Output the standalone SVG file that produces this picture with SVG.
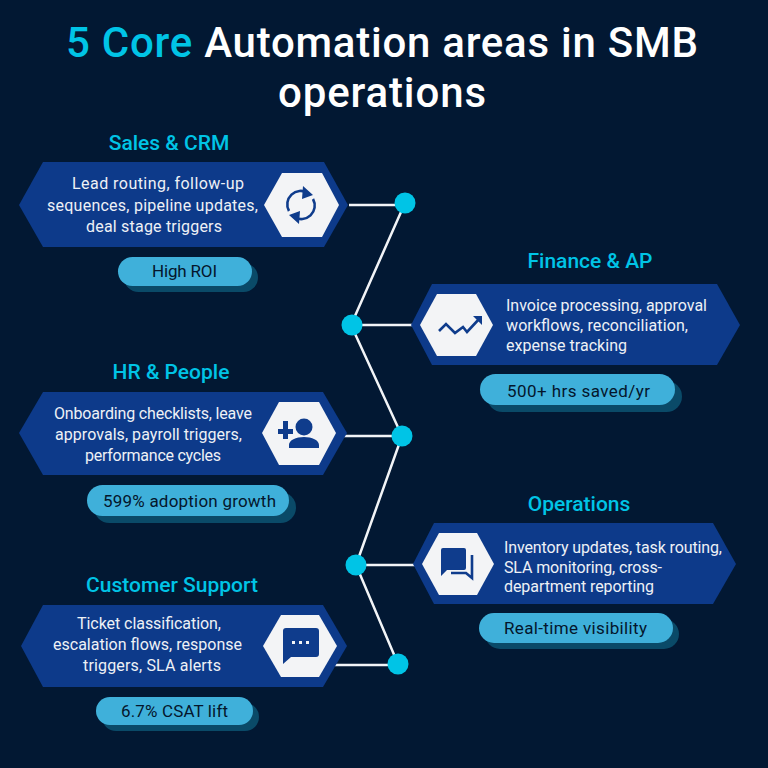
<svg xmlns="http://www.w3.org/2000/svg" width="768" height="768" viewBox="0 0 768 768">
<style>
text{font-family:Roboto,"Noto Sans","Liberation Sans",sans-serif}
.title{font-size:42px;font-weight:500;fill:#fff}
.cy{fill:#00c4e6}
.label{font-size:21px;font-weight:500;fill:#00c4e6;text-anchor:middle}
.body{font-size:16px;fill:#eef1f6}
.tag{font-size:17px;font-weight:400;fill:#04162c}
.band{fill:#0d3a8a}
.inner{fill:#f3f4f6}
.pill{fill:#3fb0da}
.shadow{fill:#0a4a68}
.dot{fill:#00c4e6}
.ic{fill:#0f3c8c}
.ics{fill:none;stroke:#0f3c8c;stroke-width:2.6}
#connectors path{fill:none;stroke:#f2f4f7;stroke-width:2.5}
</style>
<rect width="768" height="768" fill="#021833"/>
<g id="title">
<text class="title" x="66" y="57" textLength="632"><tspan class="cy">5 Core</tspan> Automation areas in SMB</text>
<text class="title" x="278" y="107" textLength="208">operations</text>
</g>
<g id="connectors">
<path d="M405 203L351 325L402 436L356 565L398 664"/>
<path d="M349 205H395M362 325H415M341 436H392M366 565H418M335 665H388"/>
</g>
<g id="sales">
<text class="label" x="169" y="150">Sales &amp; CRM</text>
<polygon class="band" points="19,205 43,162 324,162 348,205 324,247 43,247"/>
<polygon class="inner" points="264,205 282,173 322,173 339,205 322,237 282,237"/>
<path class="ics" d="M289 211A13.5 13.5 0 0 1 308 193M313 199A13.5 13.5 0 0 1 294 217"/>
<path class="ic" d="M303 186L313 195L302 199ZM299 224L289 215L300 211Z"/>
<text class="body" x="72" y="189" textLength="172">Lead routing, follow-up</text>
<text class="body" x="47" y="211" textLength="211">sequences, pipeline updates,</text>
<text class="body" x="86" y="232" textLength="136">deal stage triggers</text>
<rect class="shadow" x="124" y="263" width="134" height="29" rx="14.5"/>
<rect class="pill" x="118" y="257" width="134" height="29" rx="14.5"/>
<text class="tag" x="152" y="277" textLength="65">High ROI</text>
<circle class="dot" cx="405" cy="203" r="10.5"/>
</g>
<g id="finance">
<text class="label" x="590" y="268">Finance &amp; AP</text>
<polygon class="band" points="411,325 432,284 717,284 740,325 717,365 432,365"/>
<polygon class="inner" points="420,325 437,294 476,294 493,325 476,356 437,356"/>
<path class="ics" d="M439 331L446 324L455 333L463 327L467 332L480 318"/>
<path class="ic" d="M473 316L482 316L482 325Z"/>
<text class="body" x="506" y="311" textLength="201">Invoice processing, approval</text>
<text class="body" x="506" y="331" textLength="182">workflows, reconciliation,</text>
<text class="body" x="506" y="351" textLength="121">expense tracking</text>
<rect class="shadow" x="487" y="381" width="195" height="31" rx="15.5"/>
<rect class="pill" x="480" y="374" width="195" height="31" rx="15.5"/>
<text class="tag" x="507" y="397" textLength="143">500+ hrs saved/yr</text>
<circle class="dot" cx="352" cy="325" r="10.5"/>
</g>
<g id="hr">
<text class="label" x="171" y="379">HR &amp; People</text>
<polygon class="band" points="19,433 43,392 323,392 347,433 323,475 43,475"/>
<polygon class="inner" points="262,433 279,402 319,402 336,433 319,465 279,465"/>
<circle class="ic" cx="304" cy="427" r="8.5"/>
<path class="ic" d="M289 448V445C289 440 296 437 304 437S319 440 319 445V448ZM283 421H288V429H293V434H288V439H283V434H278V429H283Z"/>
<text class="body" x="54" y="419" textLength="198">Onboarding checklists, leave</text>
<text class="body" x="55" y="440" textLength="187">approvals, payroll triggers,</text>
<text class="body" x="85" y="461" textLength="136">performance cycles</text>
<rect class="shadow" x="94" y="492" width="202" height="31" rx="15.5"/>
<rect class="pill" x="87" y="485" width="202" height="31" rx="15.5"/>
<text class="tag" x="103" y="507" textLength="173">599% adoption growth</text>
<circle class="dot" cx="402" cy="436" r="10.5"/>
</g>
<g id="operations">
<text class="label" x="579" y="511">Operations</text>
<polygon class="band" points="413,564 434,523 713,523 736,564 713,604 434,604"/>
<polygon class="inner" points="422,564 439,533 477,533 494,564 477,595 439,595"/>
<path class="ic" d="M443 548H464Q466 548 466 550V568Q466 570 464 570H447L441 576V550Q441 548 443 548Z"/>
<path class="ics" d="M472 555V578L466 573H451"/>
<text class="body" x="504" y="553" textLength="218">Inventory updates, task routing,</text>
<text class="body" x="504" y="573" textLength="158">SLA monitoring, cross-</text>
<text class="body" x="504" y="592" textLength="150">department reporting</text>
<rect class="shadow" x="485" y="619" width="194" height="30" rx="15"/>
<rect class="pill" x="479" y="613" width="194" height="30" rx="15"/>
<text class="tag" x="504" y="634" textLength="143">Real-time visibility</text>
<circle class="dot" cx="356" cy="565" r="10.5"/>
</g>
<g id="support">
<text class="label" x="172" y="592">Customer Support</text>
<polygon class="band" points="21,646 43,605 323,605 347,646 323,687 43,687"/>
<polygon class="inner" points="263,646 281,615 319,615 337,646 319,677 281,677"/>
<path class="ic" d="M286 628H316Q319 628 319 631V654Q319 657 316 657H291L283 664V631Q283 628 286 628Z"/>
<path d="M292 641h3v3h-3zM299 641h3v3h-3zM306 641h3v3h-3z" fill="#f3f4f6"/>
<text class="body" x="77" y="629" textLength="144">Ticket classification,</text>
<text class="body" x="53" y="650" textLength="189">escalation flows, response</text>
<text class="body" x="83" y="671" textLength="138">triggers, SLA alerts</text>
<rect class="shadow" x="102" y="703" width="157" height="28" rx="14"/>
<rect class="pill" x="96" y="697" width="157" height="28" rx="14"/>
<text class="tag" x="121" y="717" textLength="107">6.7% CSAT lift</text>
<circle class="dot" cx="398" cy="664" r="10.5"/>
</g>
</svg>
